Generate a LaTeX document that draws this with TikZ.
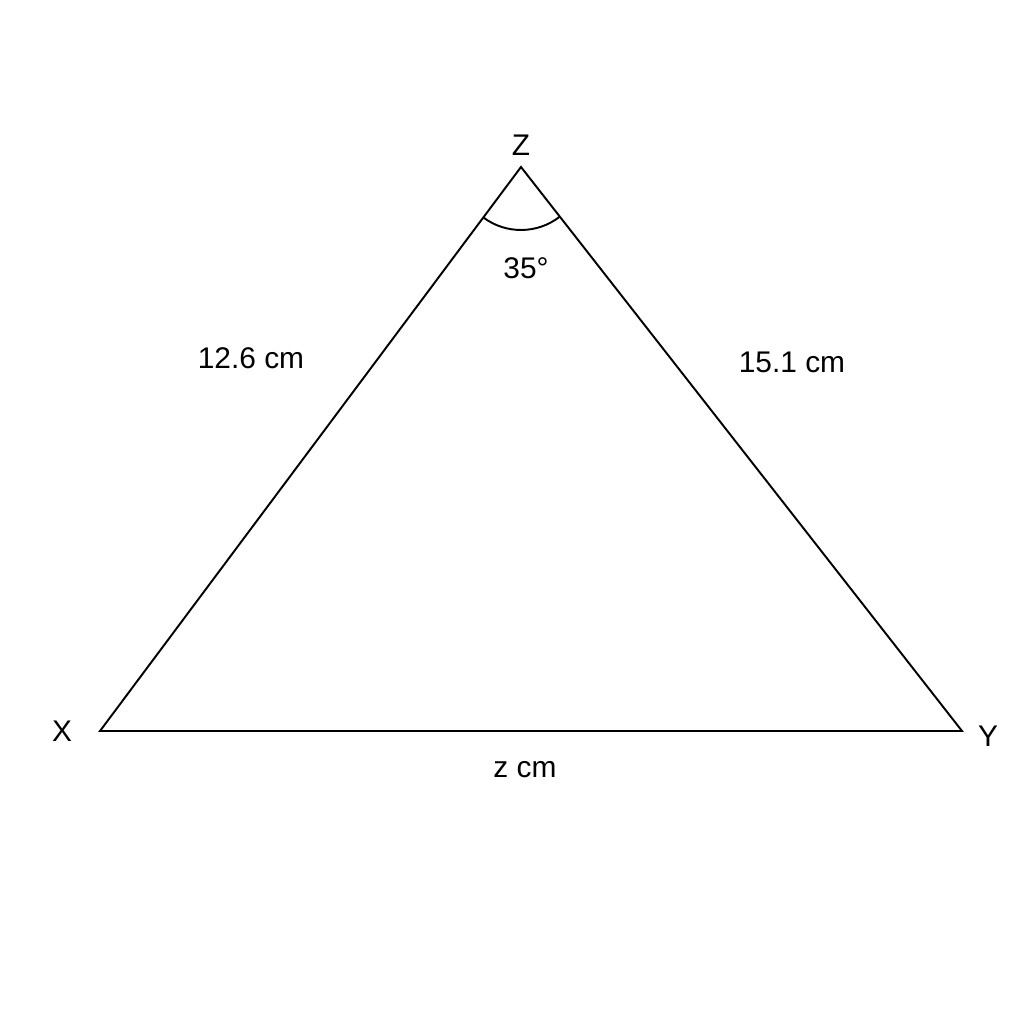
\documentclass[tikz,border=0pt]{standalone}
\usepackage[]{xcolor}
\usepackage{fontspec}
\setmainfont{Liberation Sans}
\usetikzlibrary{angles}

\begin{document}
\begin{tikzpicture}[every node/.style={font=\fontsize{17}{20}\selectfont}, side/.style={line width=1.1pt}]
    \useasboundingbox (0,0) rectangle (20.48,20.48);
    \coordinate (X) at (2.0,5.86);
    \coordinate (Y) at (19.24,5.86);
    \coordinate (Z) at (10.42,17.14);
    \draw[side]    (X) -- (Y) -- (Z) -- cycle;
    \draw[side]    pic[draw, angle radius=1.26cm] {angle = X--Z--Y};
    \node (labZ) at (10.42,17.58) {Z};
    \node (labX) at (1.24,5.86) {X};
    \node (labY) at (19.76,5.76) {Y};
    \node (ang)  at (10.52,15.12) {35°};
    \node (zx)   at (5.02,13.32) {12.6 cm};
    \node (zy)   at (15.84,13.24) {15.1 cm};
    \node (xy)   at (10.5,5.08) {z cm};
\end{tikzpicture}
\end{document}
